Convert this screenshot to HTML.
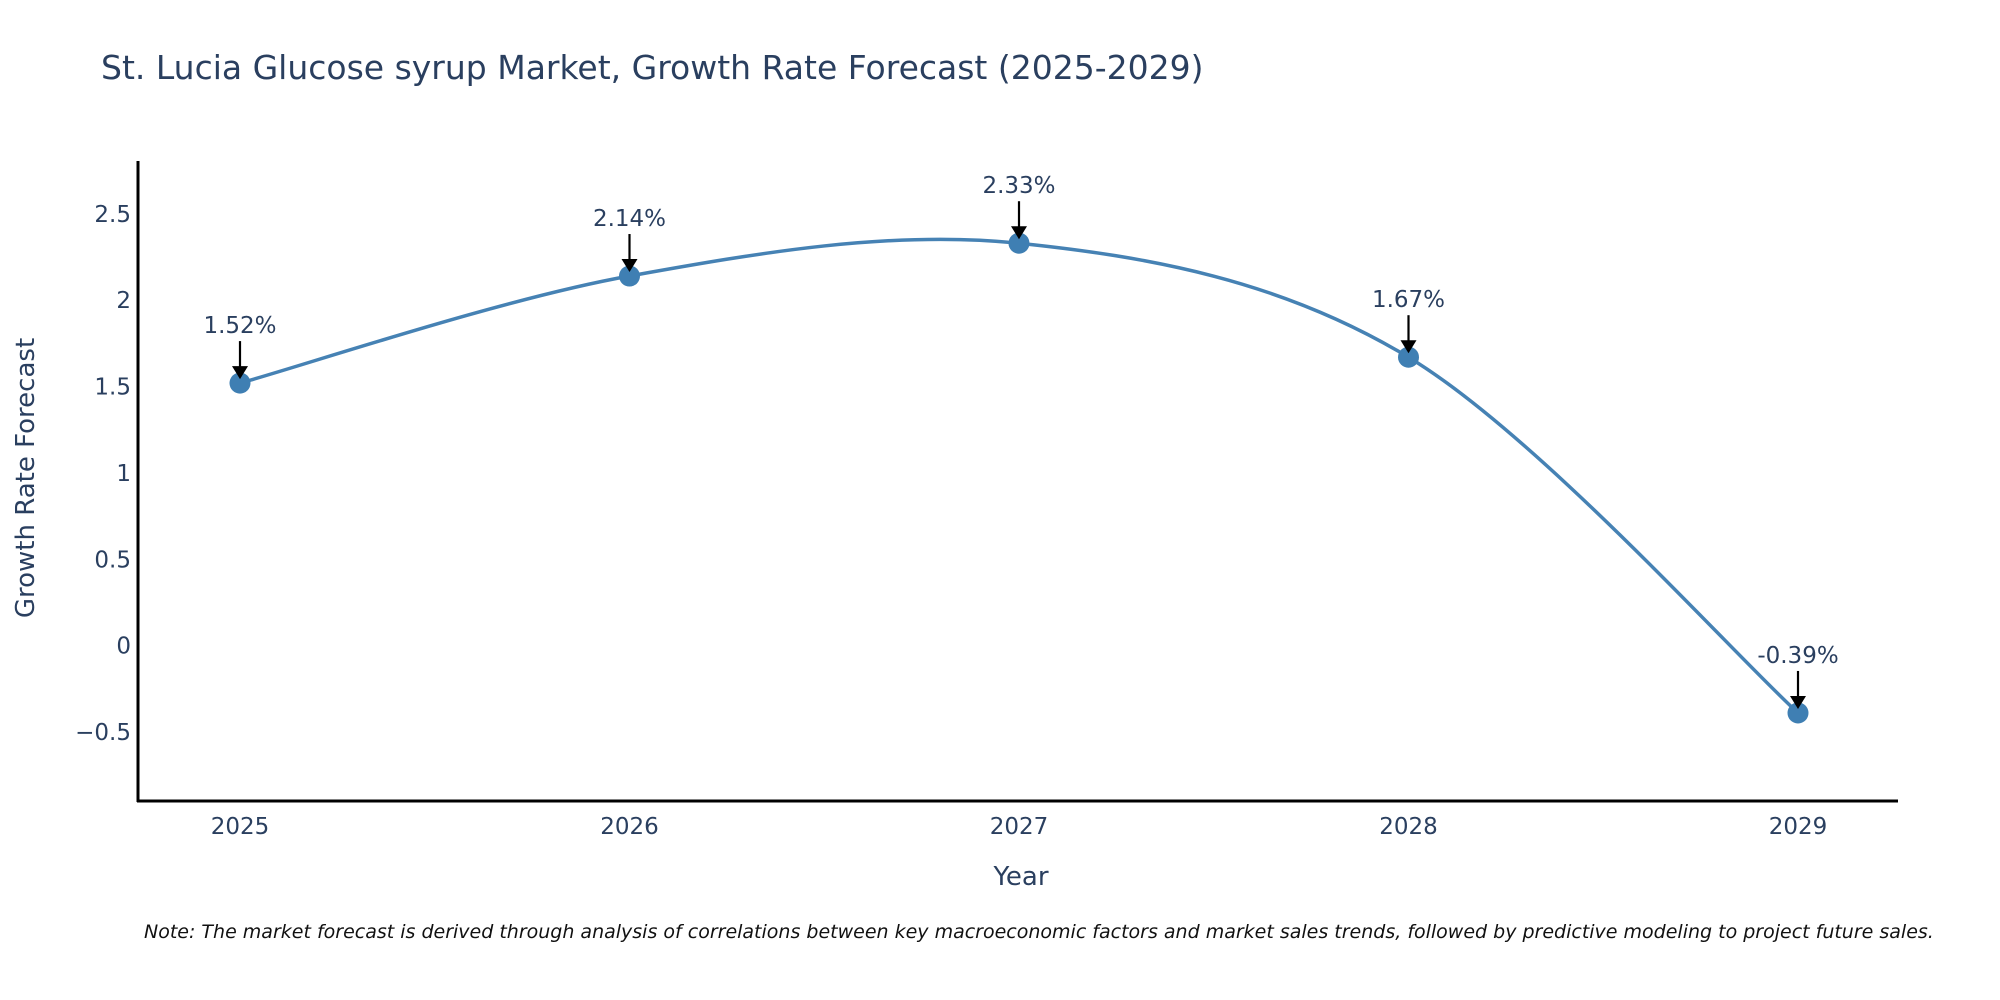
<!DOCTYPE html>
<html><head><meta charset="utf-8"><style>
html,body{margin:0;padding:0;background:#fff;overflow:hidden;}
svg{display:block;font-family:"DejaVu Sans","Liberation Sans",sans-serif;}
</style></head><body>
<svg id="chart" width="2000" height="1000" viewBox="0 0 2000 1000">
<text x="101" y="79" font-size="33" fill="#2a3f5f">St. Lucia Glucose syrup Market, Growth Rate Forecast (2025-2029)</text>
<g id="yticks"></g>
<g id="xticks"></g>
<path id="line" fill="none" stroke="#4682b4" stroke-width="3.5"></path>
<g id="points"></g>
<g id="annos"></g>
<line x1="138" y1="161" x2="138" y2="802" stroke="#000" stroke-width="3"/>
<line x1="137" y1="801" x2="1898" y2="801" stroke="#000" stroke-width="3"/>
<text x="1021" y="885" font-size="26" fill="#2a3f5f" text-anchor="middle">Year</text>
<text transform="translate(34,478) rotate(-90)" font-size="26" fill="#2a3f5f" text-anchor="middle">Growth Rate Forecast</text>
<text x="144" y="938" font-size="19" font-style="italic" fill="#111">Note: The market forecast is derived through analysis of correlations between key macroeconomic factors and market sales trends, followed by predictive modeling to project future sales.</text>
</svg>
<script>
const years = [2025, 2026, 2027, 2028, 2029];
const growth = [1.52, 2.14, 2.33, 1.67, -0.39];
const labels = ["1.52%", "2.14%", "2.33%", "1.67%", "-0.39%"];
const yTicks = [-0.5, 0, 0.5, 1, 1.5, 2, 2.5];
const yTickLabels = ["\u22120.5", "0", "0.5", "1", "1.5", "2", "2.5"];

const NS = "http://www.w3.org/2000/svg";
const x = v => 240 + (v - 2025) * 389.5;
const y = v => 645.6 - v * 172.7;
function mk(tag, attrs, parent) {
  const e = document.createElementNS(NS, tag);
  for (const k in attrs) e.setAttribute(k, attrs[k]);
  parent.appendChild(e); return e;
}
const yt = document.getElementById('yticks');
yTicks.forEach((t, i) => {
  const e = mk('text', {x: 131, y: y(t) + 8, 'font-size': 23, fill: '#2a3f5f', 'text-anchor': 'end'}, yt);
  
  
  e.textContent = yTickLabels[i];
});
const xt = document.getElementById('xticks');
years.forEach(yr => {
  const e = mk('text', {x: x(yr), y: 834, 'font-size': 23, fill: '#2a3f5f', 'text-anchor': 'middle'}, xt);
  
  
  e.textContent = String(yr);
});
const P = years.map((yr, i) => [x(yr), y(growth[i])]);
let d = `M${P[0][0]},${P[0][1]}`;
const t = 0.33;
for (let i = 0; i < P.length - 1; i++) {
  const p0 = P[i - 1] || P[i], p1 = P[i], p2 = P[i + 1], p3 = P[i + 2] || P[i + 1];
  const c1 = [p1[0] + (p2[0] - p0[0]) * t / 2, p1[1] + (p2[1] - p0[1]) * t / 2];
  const c2 = [p2[0] - (p3[0] - p1[0]) * t / 2, p2[1] - (p3[1] - p1[1]) * t / 2];
  d += ` C${c1[0]},${c1[1]} ${c2[0]},${c2[1]} ${p2[0]},${p2[1]}`;
}
document.getElementById('line').setAttribute('d', d);
const pts = document.getElementById('points');
const an = document.getElementById('annos');
P.forEach((p, i) => {
  const c = mk('circle', {cx: p[0], cy: p[1], r: 10.5, fill: '#3f7fb3'}, pts);
  
  
  const l = mk('line', {x1: p[0], y1: p[1] - 42, x2: p[0], y2: p[1] - 14, stroke: '#000', 'stroke-width': 2.2}, an);
  
  
  const h = mk('polygon', {points: `${p[0]-8},${p[1]-17} ${p[0]+8},${p[1]-17} ${p[0]},${p[1]-4}`, fill: '#000'}, an);
  
  
  const tx = mk('text', {x: p[0], y: p[1] - 50, 'font-size': 23, fill: '#2a3f5f', 'text-anchor': 'middle'}, an);
  
  
  tx.textContent = labels[i];
});
</script>
</body></html>
